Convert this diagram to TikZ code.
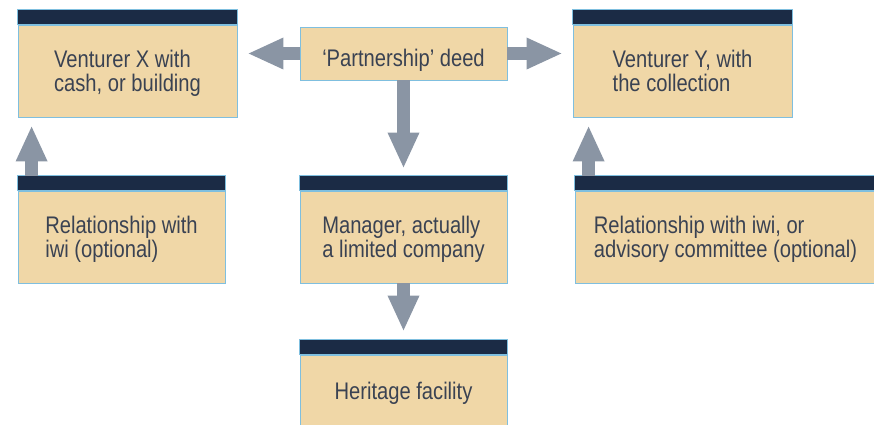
\documentclass[tikz,border=0pt]{standalone}
\usepackage{fontspec}
\setmainfont{Liberation Sans}[FakeStretch=0.84]
\usepackage{tikz}
\usetikzlibrary{arrows.meta,positioning}

\definecolor{tan}{HTML}{F0D7A7}
\definecolor{navy}{HTML}{1B2B45}
\definecolor{edge}{HTML}{7FBFDF}
\definecolor{arrowgrey}{HTML}{8A95A4}
\definecolor{ink}{HTML}{3A4252}

\tikzset{
	card/.style={rectangle,draw=edge,fill=tan,line width=0.8bp,text=ink,align=left,
		minimum width=207bp,minimum height=92bp,inner sep=0pt,text depth=0pt,
		font=\fontsize{24bp}{24.5bp}\selectfont},
	deedbox/.style={card,minimum height=53bp,text height=26bp},
	topbar/.style={draw=edge,fill=navy,line width=0.8bp},
	flow/.style={draw=arrowgrey,line width=13bp,-{Triangle[width=29bp,length=36bp]}}
}

\begin{document}
\begin{tikzpicture}[x=1bp,y=1bp,on grid]
	\useasboundingbox (0,0) rectangle (874,-424);

	\node[card,minimum width=219bp] (ventX) at (127.5,-71) {Venturer X with\\cash, or building};
	\node[deedbox] (deed) [above right=17.5bp and 276bp of ventX] {‘Partnership’ deed};
	\node[card,minimum width=219bp] (ventY) [below right=17.5bp and 279bp of deed] {Venturer Y, with\\the collection};
	\node[card] (mgr) [below=183.5bp of deed] {Manager, actually\\a limited company};
	\node[card] (relL) [left=282bp of mgr] {Relationship with\\iwi (optional)};
	\node[card,minimum width=301bp] (relR) [right=322bp of mgr] {Relationship with iwi, or\\advisory committee (optional)};
	\node[card,minimum height=71bp] (herit) [below=153.5bp of mgr] {Heritage facility};

	% dark strips on top of the boxes
	\foreach \n in {ventX,ventY,relL,mgr,relR,herit}
		\draw[topbar] (\n.north west) rectangle ([yshift=15bp]\n.north east);

	\coordinate (lfoot) at ([xshift=14bp,yshift=15bp]relL.north west);
	\coordinate (rfoot) at ([xshift=14bp,yshift=15bp]relR.north west);

	\draw[flow,shorten >=10bp] (deed.west) -- (deed.west -| ventX.east);
	\draw[flow,shorten >=10bp] (deed.east) -- (deed.east -| ventY.west);
	\draw[flow,shorten >=22bp] (deed.south) -- (mgr.north);
	\draw[flow,shorten >=23bp] (mgr.south) -- (herit.north);
	\draw[flow,shorten >=8bp] (lfoot) -- (lfoot |- ventX.south);
	\draw[flow,shorten >=8bp] (rfoot) -- (rfoot |- ventY.south);

\end{tikzpicture}
\end{document}
